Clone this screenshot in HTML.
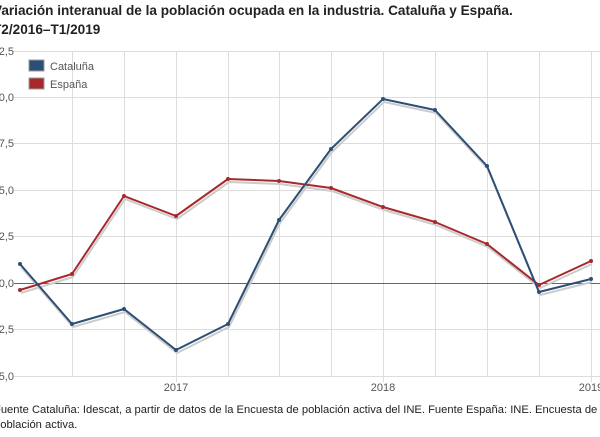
<!DOCTYPE html>
<html><head><meta charset="utf-8"><style>
body{margin:0;background:#fff;width:600px;height:437px;overflow:hidden;position:relative;font-family:"Liberation Sans",sans-serif}
.t{position:absolute;left:-7px;top:1px;font-weight:bold;font-size:13.6px;line-height:19px;color:#222}
.f{position:absolute;left:-6px;top:403px;font-size:11.2px;line-height:15px;color:#222;white-space:nowrap}
</style></head><body>
<div class="t">Variación interanual de la población ocupada en la industria. Cataluña y España.<br>T2/2016–T1/2019</div>
<svg width="600" height="437" style="position:absolute;left:0;top:0">
<g stroke="#ddd" stroke-width="1">
<line x1="14" y1="51.5" x2="600" y2="51.5"/><line x1="14" y1="97.5" x2="600" y2="97.5"/>
<line x1="14" y1="143.5" x2="600" y2="143.5"/><line x1="14" y1="190.5" x2="600" y2="190.5"/>
<line x1="14" y1="236.5" x2="600" y2="236.5"/><line x1="14" y1="329.5" x2="600" y2="329.5"/>
<line x1="14" y1="376.5" x2="600" y2="376.5"/>
<line x1="72.5" y1="51" x2="72.5" y2="376"/><line x1="124.5" y1="51" x2="124.5" y2="376"/>
<line x1="176.5" y1="51" x2="176.5" y2="382"/><line x1="228.5" y1="51" x2="228.5" y2="376"/>
<line x1="279.5" y1="51" x2="279.5" y2="376"/><line x1="331.5" y1="51" x2="331.5" y2="376"/>
<line x1="383.5" y1="51" x2="383.5" y2="382"/><line x1="435.5" y1="51" x2="435.5" y2="376"/>
<line x1="487.5" y1="51" x2="487.5" y2="376"/><line x1="539.5" y1="51" x2="539.5" y2="376"/>
<line x1="591.5" y1="51" x2="591.5" y2="382"/>
</g>
<line x1="14" y1="283.5" x2="600" y2="283.5" stroke="#666"/>
<g font-size="11" fill="#555" text-anchor="end">
<text x="14" y="55">12,5</text><text x="14" y="101">10,0</text><text x="14" y="147">7,5</text>
<text x="14" y="194">5,0</text><text x="14" y="240">2,5</text><text x="14" y="287">0,0</text>
<text x="14" y="333">-2,5</text><text x="14" y="380">-5,0</text>
</g>
<g font-size="11" fill="#555" text-anchor="middle">
<text x="176" y="391">2017</text><text x="383" y="391">2018</text><text x="591" y="391">2019</text>
</g>
<g fill="none" stroke-width="2" stroke-linejoin="round">
<polyline stroke="#ccc" transform="translate(1,3)" points="20,290 72,274 124,196 176,216 228,179 279,181 331,188 383,207 435,222 487,244 539,285 591,261"/>
<polyline stroke="#ccc" transform="translate(1,3)" points="20,264 72,324 124,309 176,350 228,324 279,220 331,149 383,99 435,110 487,166 539,292 591,279"/>
<polyline stroke="#a8292c" points="20,290 72,274 124,196 176,216 228,179 279,181 331,188 383,207 435,222 487,244 539,285 591,261"/>
<polyline stroke="#2c4f75" points="20,264 72,324 124,309 176,350 228,324 279,220 331,149 383,99 435,110 487,166 539,292 591,279"/>
</g>
<g fill="#a8292c"><circle cx="20" cy="290" r="2"/><circle cx="72" cy="274" r="2"/><circle cx="124" cy="196" r="2"/><circle cx="176" cy="216" r="2"/><circle cx="228" cy="179" r="2"/><circle cx="279" cy="181" r="2"/><circle cx="331" cy="188" r="2"/><circle cx="383" cy="207" r="2"/><circle cx="435" cy="222" r="2"/><circle cx="487" cy="244" r="2"/><circle cx="539" cy="285" r="2"/><circle cx="591" cy="261" r="2"/></g>
<g fill="#2c4f75"><circle cx="20" cy="264" r="2"/><circle cx="72" cy="324" r="2"/><circle cx="124" cy="309" r="2"/><circle cx="176" cy="350" r="2"/><circle cx="228" cy="324" r="2"/><circle cx="279" cy="220" r="2"/><circle cx="331" cy="149" r="2"/><circle cx="383" cy="99" r="2"/><circle cx="435" cy="110" r="2"/><circle cx="487" cy="166" r="2"/><circle cx="539" cy="292" r="2"/><circle cx="591" cy="279" r="2"/></g>
<rect x="29" y="60" width="15" height="11" fill="#2c4f75" stroke="#999"/>
<rect x="29" y="78" width="15" height="11" fill="#a8292c" stroke="#999"/>
<text x="50" y="70" font-size="11" fill="#555">Cataluña</text>
<text x="50" y="88" font-size="11" fill="#555">España</text>
</svg>
<div class="f">Fuente Cataluña: Idescat, a partir de datos de la Encuesta de población activa del INE. Fuente España: INE. Encuesta de<br>población activa.</div>
</body></html>
